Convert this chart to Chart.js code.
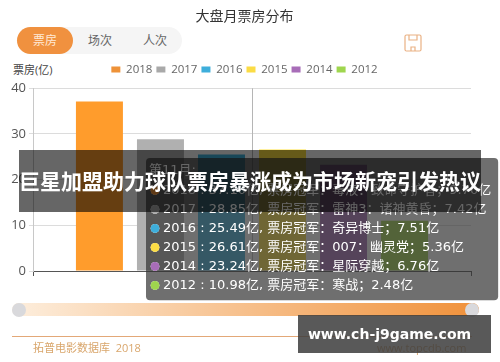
<!DOCTYPE html>
<html>
<head>
<meta charset="utf-8">
<script src="https://cdn.jsdelivr.net/npm/chart.js@4"></script>
<style>
    html, body { margin: 0; padding: 0; background: #fff; }
    #page { position: relative; width: 500px; height: 362px; overflow: hidden; font-family: "Open Sans", "Noto Sans CJK SC", sans-serif; }
    #page div, #page svg { position: absolute; }
    canvas { position: absolute; left: 0; top: 0; }
    .tab { top: 31px; font-size: 12px; line-height: 20px; color: #666; width: 56px; text-align: center; }
    #tabs { left: 17px; top: 27px; width: 165px; height: 27px; background: #f5f5f5; border-radius: 14px; }
    #tabOn { left: 17px; top: 27px; width: 56px; height: 27px; background: #f0913f; border-radius: 14px; }
    #yName { left: 13px; top: 60px; font-size: 11px; line-height: 20px; color: #444; }
    #track { left: 12px; top: 303px; width: 467px; height: 13px; border-radius: 7px; background: linear-gradient(to right, #fdeedd, #f0913a); }
    .handle { top: 303px; width: 14px; height: 14px; border-radius: 50%; background: #d9d9dc; }
    #rule { left: 12px; top: 336px; width: 460px; height: 1px; background: #e3a878; }
    #foot { left: 33px; top: 338px; font-size: 11px; line-height: 20px; color: #d9a66c; white-space: pre; }
    #site { left: 377px; top: 338px; font-size: 11px; line-height: 20px; color: #d9a66c; }
    #banner { left: 19px; top: 150px; width: 462px; height: 62px; background: rgba(0,0,0,0.6); color: #fff; font-weight: 700; font-size: 21px; line-height: 62px; text-align: center; white-space: nowrap; }
    #mark { left: 298px; top: 315px; width: 183px; padding-right: 10px; height: 38px; background: rgba(60,60,60,0.85); color: #fff; font-family: "DejaVu Sans", sans-serif; font-weight: 700; font-size: 14px; line-height: 38px; text-align: center; white-space: nowrap; }
</style>
</head>
<body>
<div id="page">
    <div id="tabs"></div>
    <div id="tabOn"></div>
    <div class="tab" style="left:17px;color:#ffe9d6">票房</div>
    <div class="tab" style="left:72px">场次</div>
    <div class="tab" style="left:127px">人次</div>
    <svg style="left:404px;top:34px" width="18" height="18" viewBox="0 0 18 18" fill="none" stroke="#eab184" stroke-width="1.2">
        <rect x="1" y="1" width="16" height="16" rx="1.5"></rect>
        <path d="M5 1v5h8V1M7 17v-4h4v4"></path>
    </svg>
    <div id="yName">票房(亿)</div>
    <canvas id="boxOffice" width="500" height="362"></canvas>
    <div id="track"></div>
    <div class="handle" style="left:12px"></div>
    <div class="handle" style="left:465px"></div>
    <div id="rule"></div>
    <div id="foot">拓普电影数据库  2018</div>
    <div id="site">www.topcdb.com</div>
    <div id="banner">巨星加盟助力球队票房暴涨成为市场新宠引发热议</div>
    <div id="mark">www.ch-j9game.com</div>
</div>
<script>
    const months = ["第11月"];
    const years = ["2018", "2017", "2016", "2015", "2014", "2012"];
    const gross = [37.1, 28.85, 25.49, 26.61, 23.24, 10.98];
    const films = ["毒液：致命守护者", "雷神3：诸神黄昏", "奇异博士", "007：幽灵党", "星际穿越", "寒战"];
    const filmGross = ["9.70", "7.42", "7.51", "5.36", "6.76", "2.48"];
    const barColors = ["#ff9c2c", "#b0b0b0", "#3eb1dd", "#ffe23f", "#a86db8", "#a0d84a"];
    const legendColors = ["#ee9238", "#a9a9a9", "#3eaedb", "#fbdc45", "#a86db8", "#9fd64e"];
    const fontStack = '"Open Sans", "Noto Sans CJK SC", sans-serif';
    const tipFont = '"DejaVu Sans", "Noto Sans CJK SC", sans-serif';

    Chart.Tooltip.positioners.fixedBox = function () {
        return { x: 150, y: 158 };
    };

    // the vertical hover line through the middle of the group
    const crossLine = {
        id: "crossLine",
        beforeDatasetsDraw(chart) {
            const x = chart.scales.x.getPixelForValue(0);
            const ctx = chart.ctx;
            ctx.save();
            ctx.strokeStyle = "#b5b5b5";
            ctx.beginPath();
            ctx.moveTo(Math.round(x) + 0.5, chart.chartArea.top);
            ctx.lineTo(Math.round(x) + 0.5, chart.chartArea.bottom);
            ctx.stroke();
            ctx.restore();
        }
    };

    // a little extra room under the legend
    const legendGap = {
        id: "legendGap",
        beforeInit(chart) {
            const fit = chart.legend.fit;
            chart.legend.fit = function () {
                fit.call(this);
                this.height += 3;
            };
        }
    };

    const chart = new Chart(document.getElementById("boxOffice"), {
        type: "bar",
        plugins: [crossLine, legendGap],
        data: {
            labels: months,
            datasets: years.map((y, i) => ({
                label: y,
                data: [gross[i]],
                backgroundColor: barColors[i],
                hoverBackgroundColor: barColors[i],
                categoryPercentage: 0.836,
                barPercentage: 0.77
            }))
        },
        options: {
            responsive: false,
            animation: false,
            events: [],
            layout: { padding: { left: 18, right: 29, top: 9, bottom: 86 } },
            scales: {
                x: {
                    grid: { drawOnChartArea: false, color: "#555", tickLength: 5 },
                    border: { color: "#555" },
                    ticks: { display: false },
                    afterFit(scale) { scale.height = 5; }
                },
                y: {
                    min: 0,
                    max: 40,
                    grid: { color: "#dcdcdc", tickLength: 4 },
                    border: { color: "#c8c8c8" },
                    ticks: { stepSize: 10, padding: 3, color: "#555", font: { family: fontStack, size: 13 } },
                    afterFit(scale) {
                        // narrow box keeps title and legend centred, labels may stick out of it
                        scale.width = 15;
                        scale._computeLabelArea = () => undefined;
                    }
                }
            },
            plugins: {
                title: {
                    display: true,
                    text: "大盘月票房分布",
                    color: "#333",
                    font: { family: fontStack, size: 14, weight: "normal" },
                    padding: { top: 0, bottom: 34 }
                },
                legend: {
                    position: "top",
                    labels: {
                        color: "#666",
                        font: { family: fontStack, size: 11.5 },
                        boxWidth: 9,
                        boxHeight: 6,
                        padding: 4,
                        generateLabels(c) {
                            return years.map((y, i) => ({
                                text: y,
                                fillStyle: legendColors[i],
                                strokeStyle: legendColors[i],
                                lineWidth: 0,
                                datasetIndex: i,
                                fontColor: "#666"
                            }));
                        }
                    }
                },
                tooltip: {
                    position: "fixedBox",
                    animation: false,
                    xAlign: "left",
                    yAlign: "top",
                    caretSize: 0,
                    caretPadding: 0,
                    cornerRadius: 4,
                    backgroundColor: "rgba(50,50,50,0.7)",
                    titleColor: "#fff",
                    bodyColor: "#fff",
                    titleFont: { family: tipFont, size: 13, weight: "normal" },
                    bodyFont: { family: tipFont, size: 13 },
                    titleMarginBottom: 4,
                    bodySpacing: 3.4,
                    padding: { left: 3, right: 7, top: 5, bottom: 7 },
                    usePointStyle: true,
                    boxWidth: 12,
                    boxHeight: 8,
                    callbacks: {
                        title: () => months[0] + ":",
                        label(item) {
                            const i = item.datasetIndex;
                            return years[i] + " : " + gross[i].toFixed(2) + "亿, 票房冠军：" + films[i] + "；" + filmGross[i] + "亿";
                        },
                        labelPointStyle: () => ({ pointStyle: "circle", rotation: 0 }),
                        labelColor(item) {
                            const c = legendColors[item.datasetIndex];
                            return { borderColor: c, backgroundColor: c, borderWidth: 0 };
                        }
                    }
                }
            }
        }
    });

    const active = years.map((y, i) => ({ datasetIndex: i, index: 0 }));
    chart.setActiveElements(active);
    chart.tooltip.setActiveElements(active, { x: 252, y: 180 });
    chart.update();
</script>
</body>
</html>
